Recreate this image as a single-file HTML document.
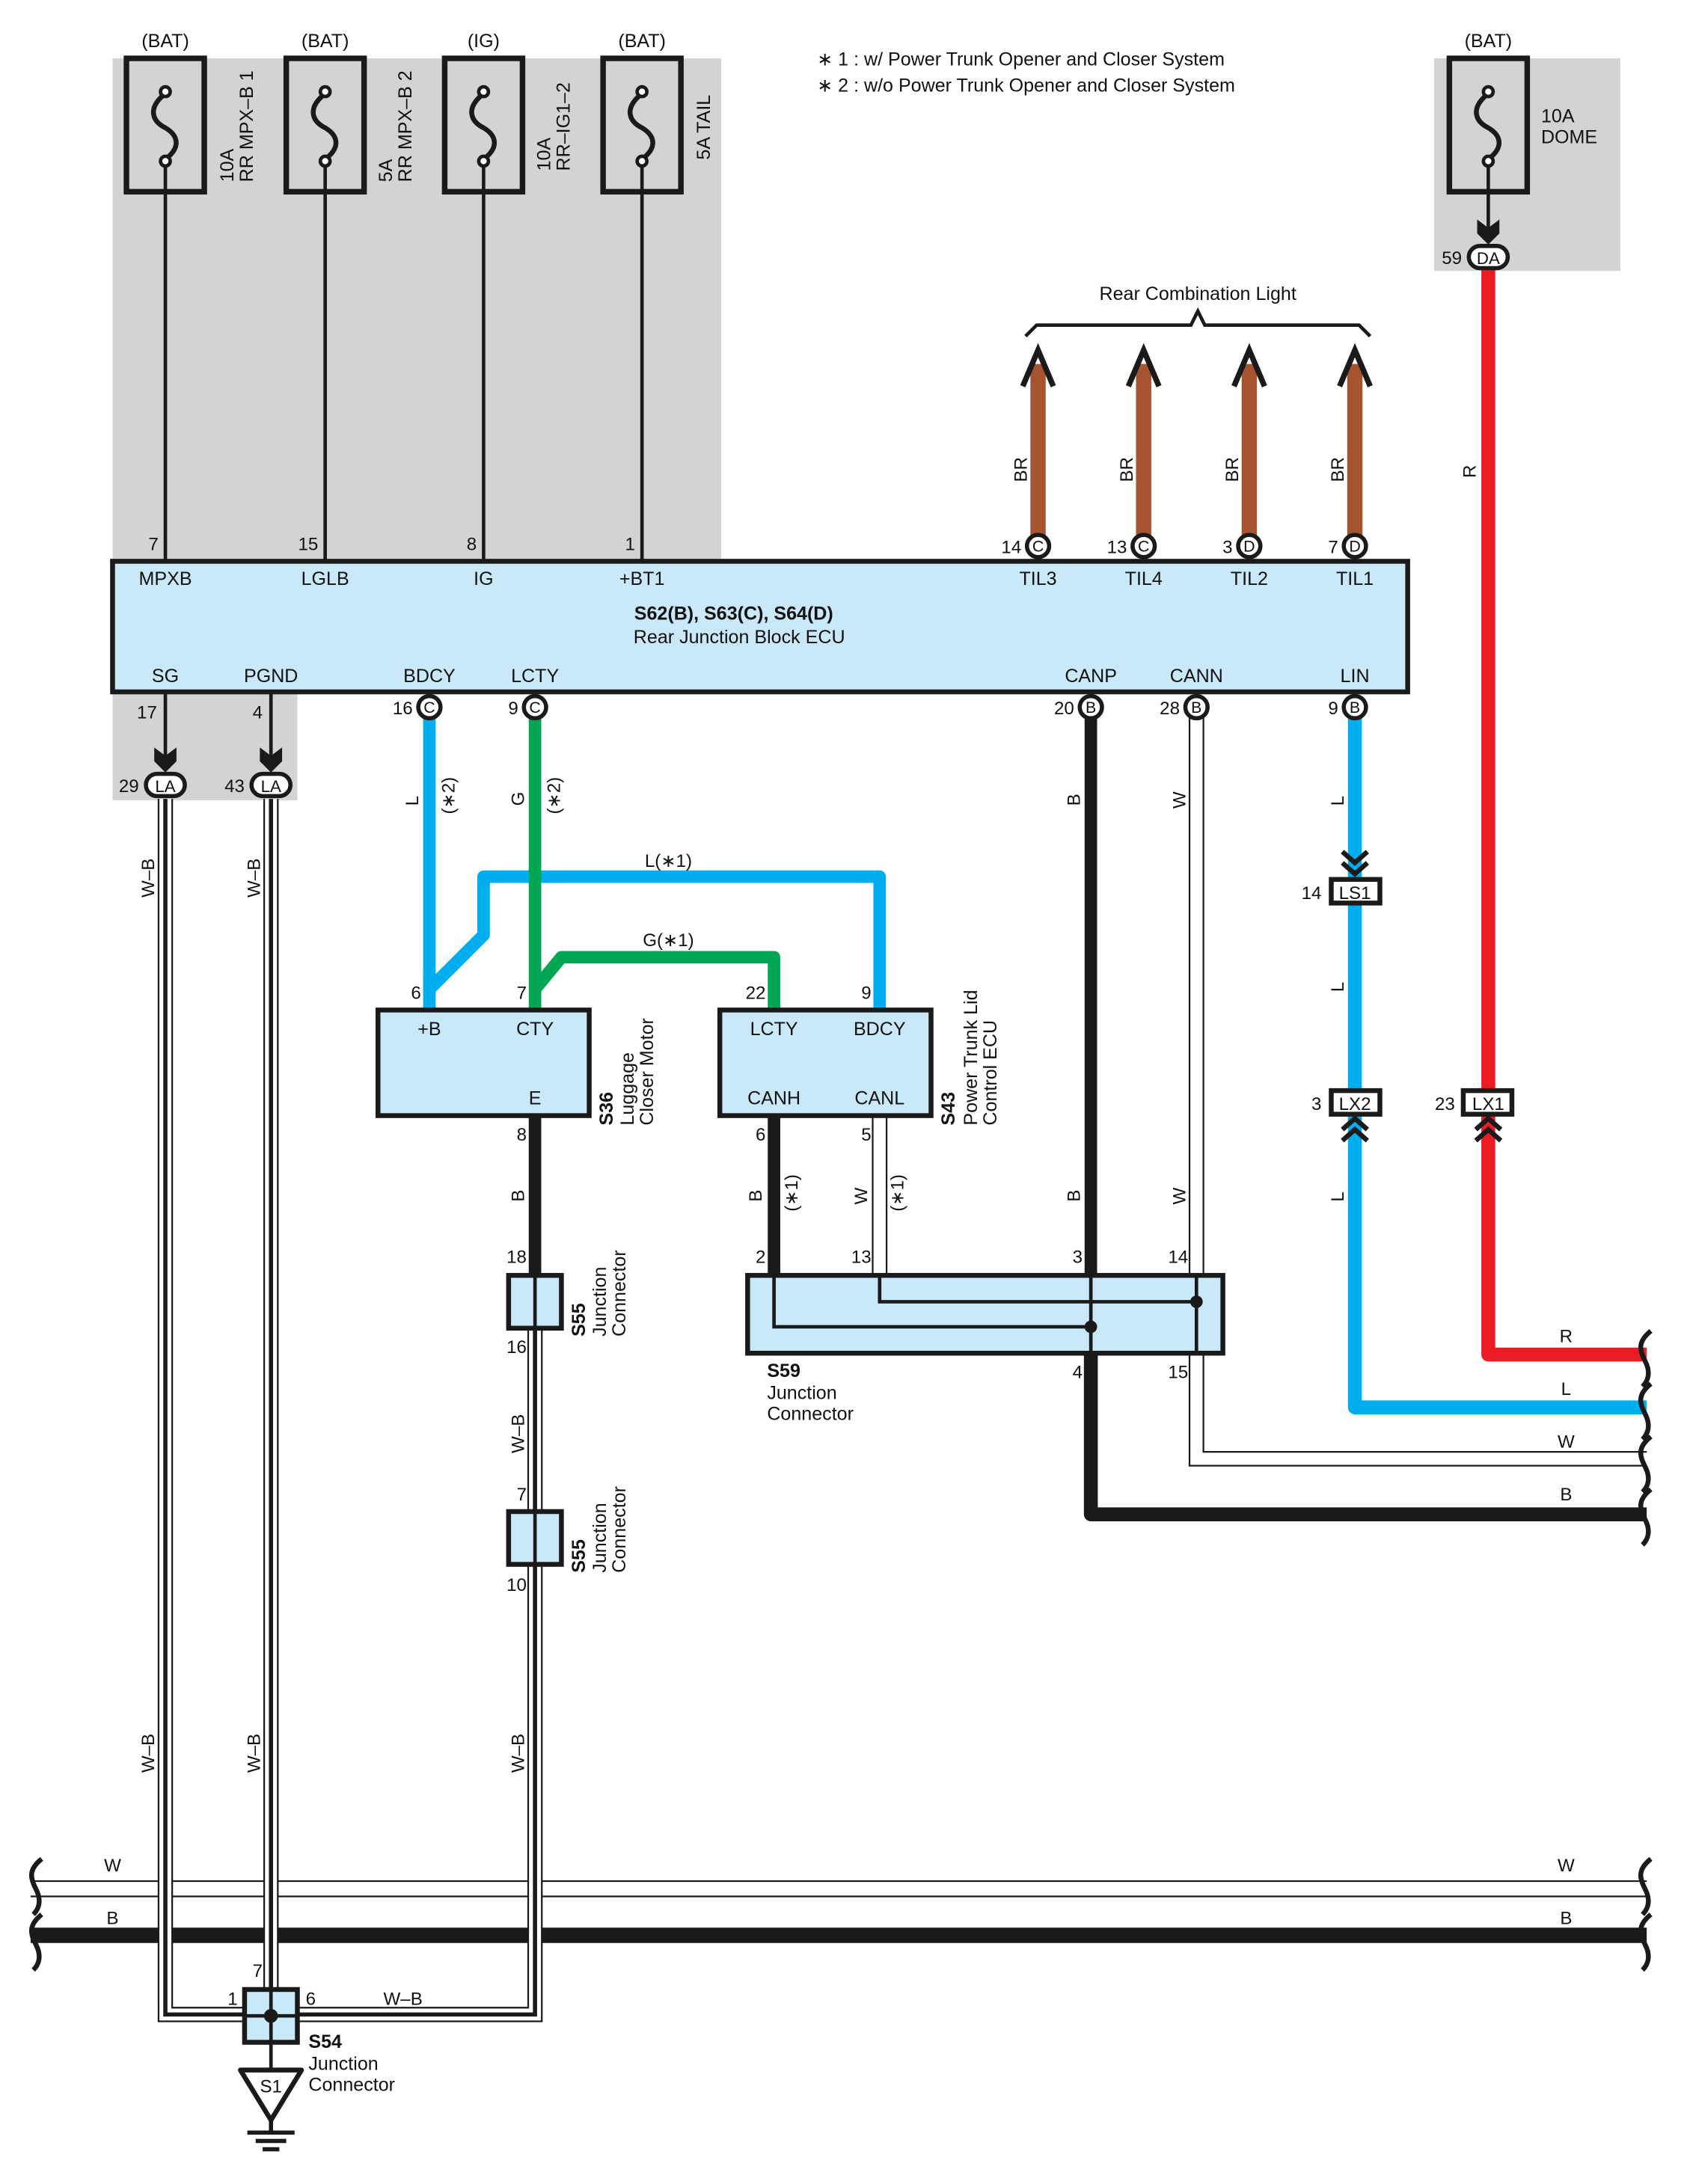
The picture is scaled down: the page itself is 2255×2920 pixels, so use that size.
<!DOCTYPE html>
<html><head><meta charset="utf-8"><style>
html,body{margin:0;padding:0;background:#fff}
svg{display:block}
text{font-family:"Liberation Sans",sans-serif;fill:#111}
</style></head><body>
<svg width="2255" height="2920" viewBox="0 0 1214 1572" xmlns="http://www.w3.org/2000/svg">
<defs>
<g id="fuse">
<rect x="-28" y="0" width="56" height="96" fill="none" stroke="#1a1a1a" stroke-width="4"/>
<circle cx="0" cy="24" r="3.5" fill="#fff" stroke="#1a1a1a" stroke-width="2.5"/>
<circle cx="0" cy="74" r="3.5" fill="#fff" stroke="#1a1a1a" stroke-width="2.5"/>
<path d="M-2 27 C-12 36,-10 45,0 50 C10 56,10 64,2 71" fill="none" stroke="#1a1a1a" stroke-width="3.5"/>
</g>
<g id="darr"><path d="M-8 -12 L0 -6 L8 -12 L8 -2 L0 6 L-8 -2 Z" fill="#1a1a1a"/></g>
</defs>
<!-- gray backgrounds -->
<rect x="81" y="42" width="438" height="362" fill="#d1d3d4"/>
<rect x="81" y="498" width="133" height="78" fill="#d1d3d4"/>
<rect x="1032" y="42" width="134" height="153" fill="#d1d3d4"/>

<!-- notes -->
<text x="588" y="47" font-size="13.5">∗ 1 : w/ Power Trunk Opener and Closer System</text>
<text x="588" y="66" font-size="13.5">∗ 2 : w/o Power Trunk Opener and Closer System</text>

<!-- fuses -->
<g font-size="13.5" text-anchor="middle">
<text x="119" y="34">(BAT)</text><text x="234" y="34">(BAT)</text><text x="348" y="34">(IG)</text><text x="462" y="34">(BAT)</text><text x="1071" y="34">(BAT)</text>
</g>
<use href="#fuse" x="119" y="42"/><use href="#fuse" x="234" y="42"/><use href="#fuse" x="348" y="42"/><use href="#fuse" x="462" y="42"/><use href="#fuse" x="1071" y="42"/>
<g stroke="#1a1a1a" stroke-width="2.5">
<line x1="119" y1="119" x2="119" y2="404"/><line x1="234" y1="119" x2="234" y2="404"/><line x1="348" y1="119" x2="348" y2="404"/><line x1="462" y1="119" x2="462" y2="404"/>
<line x1="1071" y1="119" x2="1071" y2="170"/>
<line x1="119" y1="498" x2="119" y2="550"/><line x1="195" y1="498" x2="195" y2="550"/>
</g>
<g font-size="13.5">
<text transform="translate(168,131) rotate(-90)">10A</text><text transform="translate(182,131) rotate(-90)">RR MPX–B 1</text>
<text transform="translate(282,131) rotate(-90)">5A</text><text transform="translate(296,131) rotate(-90)">RR MPX–B 2</text>
<text transform="translate(396,123) rotate(-90)">10A</text><text transform="translate(410,123) rotate(-90)">RR–IG1–2</text>
<text transform="translate(511,115) rotate(-90)">5A TAIL</text>
<text x="1109" y="88">10A</text><text x="1109" y="103">DOME</text>
</g>
<g font-size="13" text-anchor="end">
<text x="114" y="396">7</text><text x="229" y="396">15</text><text x="343" y="396">8</text><text x="457" y="396">1</text>
</g>

<!-- DA connector + red -->
<use href="#darr" x="1071" y="170"/>
<path d="M1071 192 V975 H1185" fill="none" stroke="#ed1c24" stroke-width="10" stroke-linejoin="round"/>
<rect x="1057" y="177" width="28" height="16" rx="8" fill="#fff" stroke="#1a1a1a" stroke-width="3"/>
<text x="1071" y="190" font-size="12" text-anchor="middle">DA</text>
<text x="1052" y="190" font-size="13" text-anchor="end">59</text>
<text transform="translate(1062,344) rotate(-90)" font-size="13">R</text>

<!-- Rear Combination Light -->
<text x="862" y="216" font-size="13.5" text-anchor="middle">Rear Combination Light</text>
<path d="M738 242 L746 234 H857 L862 224 L867 234 H978 L986 242" fill="none" stroke="#1a1a1a" stroke-width="2.5"/>
<g stroke="#a65430" stroke-width="11">
<line x1="747" y1="262" x2="747" y2="388"/><line x1="823" y1="262" x2="823" y2="388"/><line x1="899" y1="262" x2="899" y2="388"/><line x1="975" y1="262" x2="975" y2="388"/>
</g>
<g fill="none" stroke="#1a1a1a" stroke-width="4">
<path d="M736 278 L747 252 L758 278"/><path d="M812 278 L823 252 L834 278"/><path d="M888 278 L899 252 L910 278"/><path d="M964 278 L975 252 L986 278"/>
</g>
<g font-size="13">
<text transform="translate(739,347) rotate(-90)">BR</text><text transform="translate(815,347) rotate(-90)">BR</text><text transform="translate(891,347) rotate(-90)">BR</text><text transform="translate(967,347) rotate(-90)">BR</text>
</g>

<!-- ECU -->
<rect x="81" y="404" width="932" height="94" fill="#c9e8f8" stroke="#1a1a1a" stroke-width="3.5"/>
<g font-size="13.5" text-anchor="middle">
<text x="119" y="421">MPXB</text><text x="234" y="421">LGLB</text><text x="348" y="421">IG</text><text x="462" y="421">+BT1</text>
<text x="747" y="421">TIL3</text><text x="823" y="421">TIL4</text><text x="899" y="421">TIL2</text><text x="975" y="421">TIL1</text>
<text x="528" y="446" font-weight="bold">S62(B), S63(C), S64(D)</text>
<text x="532" y="463">Rear Junction Block ECU</text>
<text x="119" y="491">SG</text><text x="195" y="491">PGND</text><text x="309" y="491">BDCY</text><text x="385" y="491">LCTY</text>
<text x="785" y="491">CANP</text><text x="861" y="491">CANN</text><text x="975" y="491">LIN</text>
</g>

<!-- Bottom wires from ECU -->
<path d="M309 509 V712 L348 673 V631 H633 V727" fill="none" stroke="#00aeef" stroke-width="9" stroke-linejoin="round"/>
<path d="M309 700 V727" fill="none" stroke="#00aeef" stroke-width="9"/>
<path d="M385 509 V727" fill="none" stroke="#00a651" stroke-width="9"/>
<path d="M385 712 L404 689 H557 V727" fill="none" stroke="#00a651" stroke-width="9" stroke-linejoin="round"/>
<text x="481" y="624" font-size="13" text-anchor="middle">L(∗1)</text>
<text x="481" y="681" font-size="13" text-anchor="middle">G(∗1)</text>
<g font-size="13">
<text transform="translate(301,580) rotate(-90)">L</text><text transform="translate(327,586) rotate(-90)">(∗2)</text>
<text transform="translate(377,580) rotate(-90)">G</text><text transform="translate(403,586) rotate(-90)">(∗2)</text>
<text transform="translate(777,580) rotate(-90)">B</text>
<text transform="translate(853,582) rotate(-90)">W</text>
<text transform="translate(967,580) rotate(-90)">L</text>
<text transform="translate(967,714) rotate(-90)">L</text>
<text transform="translate(967,865) rotate(-90)">L</text>
<text transform="translate(377,865) rotate(-90)">B</text>
<text transform="translate(548,865) rotate(-90)">B</text><text transform="translate(574,872) rotate(-90)">(∗1)</text>
<text transform="translate(624,867) rotate(-90)">W</text><text transform="translate(650,872) rotate(-90)">(∗1)</text>
<text transform="translate(777,865) rotate(-90)">B</text>
<text transform="translate(853,867) rotate(-90)">W</text>
<text transform="translate(111,646) rotate(-90)">W–B</text>
<text transform="translate(187,646) rotate(-90)">W–B</text>
<text transform="translate(111,1276) rotate(-90)">W–B</text>
<text transform="translate(187,1276) rotate(-90)">W–B</text>
<text transform="translate(377,1046) rotate(-90)">W–B</text>
<text transform="translate(377,1276) rotate(-90)">W–B</text>
</g>

<!-- LIN blue -->
<path d="M975 509 V1013 H1185" fill="none" stroke="#00aeef" stroke-width="10" stroke-linejoin="round"/>
<g fill="none" stroke="#1a1a1a" stroke-width="3.5">
<path d="M966 613 L975 621 L984 613"/><path d="M966 621 L975 629 L984 621"/>
<path d="M966 813 L975 805 L984 813"/><path d="M966 821 L975 813 L984 821"/>
<path d="M1062 813 L1071 805 L1080 813"/><path d="M1062 821 L1071 813 L1080 821"/>
</g>
<g stroke="#1a1a1a" stroke-width="3.5" fill="#fff">
<rect x="958" y="633" width="35" height="17"/><rect x="958" y="785" width="35" height="17"/><rect x="1053" y="785" width="35" height="17"/>
</g>
<g font-size="13" text-anchor="middle"><text x="975" y="647">LS1</text><text x="975" y="799">LX2</text><text x="1071" y="799">LX1</text></g>
<g font-size="13" text-anchor="end"><text x="951" y="647">14</text><text x="951" y="799">3</text><text x="1047" y="799">23</text></g>

<!-- CANP / CANN -->
<path d="M785 509 V918" stroke="#1a1a1a" stroke-width="9" fill="none"/>
<path d="M785 974 V1090 H1185" stroke="#1a1a1a" stroke-width="10" fill="none" stroke-linejoin="round"/>
<g fill="none" stroke="#1a1a1a" stroke-width="1.2">
<line x1="856" y1="509" x2="856" y2="918"/><line x1="866" y1="509" x2="866" y2="918"/>
<path d="M856 974 V1055 H1185"/><path d="M866 974 V1045 H1185"/>
<line x1="628" y1="803" x2="628" y2="918"/><line x1="638" y1="803" x2="638" y2="918"/>
</g>
<g font-size="13" text-anchor="middle"><text x="1127" y="966">R</text><text x="1127" y="1004">L</text><text x="1127" y="1042">W</text><text x="1127" y="1080">B</text></g>

<!-- ECU bottom connectors -->
<g fill="#fff" stroke="#1a1a1a" stroke-width="3">
<circle cx="309" cy="509" r="8"/><circle cx="385" cy="509" r="8"/><circle cx="785" cy="509" r="8"/><circle cx="861" cy="509" r="8"/><circle cx="975" cy="509" r="8"/>
<circle cx="747" cy="393" r="8"/><circle cx="823" cy="393" r="8"/><circle cx="899" cy="393" r="8"/><circle cx="975" cy="393" r="8"/>
</g>
<g font-size="11.5" text-anchor="middle">
<text x="309" y="513">C</text><text x="385" y="513">C</text><text x="785" y="513">B</text><text x="861" y="513">B</text><text x="975" y="513">B</text>
<text x="747" y="397">C</text><text x="823" y="397">C</text><text x="899" y="397">D</text><text x="975" y="397">D</text>
</g>
<g font-size="13" text-anchor="end">
<text x="297" y="514">16</text><text x="373" y="514">9</text><text x="773" y="514">20</text><text x="849" y="514">28</text><text x="963" y="514">9</text>
<text x="735" y="398">14</text><text x="811" y="398">13</text><text x="887" y="398">3</text><text x="963" y="398">7</text>
<text x="113" y="517">17</text><text x="189" y="517">4</text>
</g>

<!-- bottom bus lines -->
<g fill="none" stroke="#1a1a1a">
<line x1="22" y1="1354" x2="1185" y2="1354" stroke-width="1.2"/>
<line x1="22" y1="1365" x2="1185" y2="1365" stroke-width="1.2"/>
<line x1="22" y1="1393" x2="1185" y2="1393" stroke-width="11"/>
</g>
<g fill="none" stroke="#1a1a1a" stroke-width="3.5">
<path d="M30 1338 C20 1346,22 1352,26 1360 C30 1368,28 1374,24 1378"/>
<path d="M30 1378 C20 1386,22 1392,26 1400 C30 1408,28 1414,24 1418"/>
<path d="M1188 1338 C1178 1346,1180 1352,1184 1360 C1188 1368,1186 1374,1182 1378"/>
<path d="M1188 1378 C1178 1386,1180 1392,1184 1400 C1188 1408,1186 1414,1182 1418"/>
<path d="M1188 958 C1178 966,1180 972,1184 980 C1188 988,1186 994,1182 998"/>
<path d="M1188 996 C1178 1004,1180 1010,1184 1018 C1188 1026,1186 1032,1182 1036"/>
<path d="M1188 1034 C1178 1042,1180 1048,1184 1056 C1188 1064,1186 1070,1182 1074"/>
<path d="M1188 1072 C1178 1080,1180 1086,1184 1094 C1188 1102,1186 1108,1182 1112"/>
</g>
<g font-size="13" text-anchor="middle"><text x="81" y="1347">W</text><text x="81" y="1385">B</text><text x="1127" y="1347">W</text><text x="1127" y="1385">B</text></g>

<!-- W-B wires (white with black stripe) -->
<g fill="none" stroke-linejoin="miter">
<path d="M119 575 V1450 H176 M195 575 V1432 M214 1450 H385 V1126 M385 1088 V956" stroke="#1a1a1a" stroke-width="11"/>
<path d="M119 575 V1450 H176 M195 575 V1432 M214 1450 H385 V1126 M385 1088 V956" stroke="#fff" stroke-width="8.6"/>
<path d="M119 575 V1450 H176 M195 575 V1432 M214 1450 H385 V1126 M385 1088 V956" stroke="#1a1a1a" stroke-width="3"/>
</g>
<!-- LA connectors -->
<use href="#darr" x="119" y="550"/><use href="#darr" x="195" y="550"/>
<rect x="105" y="557" width="28" height="16" rx="8" fill="#fff" stroke="#1a1a1a" stroke-width="3"/>
<rect x="181" y="557" width="28" height="16" rx="8" fill="#fff" stroke="#1a1a1a" stroke-width="3"/>
<g font-size="12" text-anchor="middle"><text x="119" y="570">LA</text><text x="195" y="570">LA</text></g>
<g font-size="13" text-anchor="end"><text x="100" y="570">29</text><text x="176" y="570">43</text></g>

<!-- S36 -->
<path d="M385 803 V918" stroke="#1a1a1a" stroke-width="9"/>
<rect x="272" y="727" width="152" height="76" fill="#c9e8f8" stroke="#1a1a1a" stroke-width="3.5"/>
<g font-size="13.5" text-anchor="middle"><text x="309" y="745">+B</text><text x="385" y="745">CTY</text><text x="385" y="795">E</text></g>
<g font-size="13" text-anchor="end"><text x="303" y="719">6</text><text x="379" y="719">7</text><text x="379" y="821">8</text>
<text x="379" y="909">18</text><text x="379" y="974">16</text><text x="379" y="1080">7</text><text x="379" y="1145">10</text></g>
<text transform="translate(441,810) rotate(-90)" font-size="13.5" font-weight="bold">S36</text>
<text transform="translate(456,810) rotate(-90)" font-size="13.5">Luggage</text>
<text transform="translate(470,810) rotate(-90)" font-size="13.5">Closer Motor</text>

<!-- S55 boxes -->
<rect x="366" y="918" width="38" height="38" fill="#c9e8f8" stroke="#1a1a1a" stroke-width="3.5"/>
<line x1="385" y1="918" x2="385" y2="956" stroke="#1a1a1a" stroke-width="2.5"/>
<rect x="366" y="1088" width="38" height="38" fill="#c9e8f8" stroke="#1a1a1a" stroke-width="3.5"/>
<line x1="385" y1="1088" x2="385" y2="1126" stroke="#1a1a1a" stroke-width="2.5"/>
<text transform="translate(421,962) rotate(-90)" font-size="13.5" font-weight="bold">S55</text>
<text transform="translate(436,962) rotate(-90)" font-size="13.5">Junction</text>
<text transform="translate(450,962) rotate(-90)" font-size="13.5">Connector</text>
<text transform="translate(421,1132) rotate(-90)" font-size="13.5" font-weight="bold">S55</text>
<text transform="translate(436,1132) rotate(-90)" font-size="13.5">Junction</text>
<text transform="translate(450,1132) rotate(-90)" font-size="13.5">Connector</text>

<!-- S43 -->
<path d="M557 803 V918" stroke="#1a1a1a" stroke-width="9"/>
<rect x="518" y="727" width="152" height="76" fill="#c9e8f8" stroke="#1a1a1a" stroke-width="3.5"/>
<g font-size="13.5" text-anchor="middle"><text x="557" y="745">LCTY</text><text x="633" y="745">BDCY</text><text x="557" y="795">CANH</text><text x="633" y="795">CANL</text></g>
<g font-size="13" text-anchor="end"><text x="551" y="719">22</text><text x="627" y="719">9</text><text x="551" y="821">6</text><text x="627" y="821">5</text>
<text x="551" y="909">2</text><text x="627" y="909">13</text><text x="779" y="909">3</text><text x="855" y="909">14</text><text x="779" y="992">4</text><text x="855" y="992">15</text></g>
<text transform="translate(687,810) rotate(-90)" font-size="13.5" font-weight="bold">S43</text>
<text transform="translate(703,810) rotate(-90)" font-size="13.5">Power Trunk Lid</text>
<text transform="translate(717,810) rotate(-90)" font-size="13.5">Control ECU</text>

<!-- S59 -->
<rect x="538" y="918" width="342" height="56" fill="#c9e8f8" stroke="#1a1a1a" stroke-width="3.5"/>
<g fill="none" stroke="#1a1a1a" stroke-width="2.5">
<path d="M557 918 V955 H785"/><path d="M633 918 V937 H861"/>
<line x1="785" y1="918" x2="785" y2="974"/><line x1="861" y1="918" x2="861" y2="974"/>
</g>
<circle cx="785" cy="955" r="4.5" fill="#1a1a1a"/><circle cx="861" cy="937" r="4.5" fill="#1a1a1a"/>
<text x="552" y="991" font-size="13.5" font-weight="bold">S59</text>
<text x="552" y="1007" font-size="13.5">Junction</text>
<text x="552" y="1022" font-size="13.5">Connector</text>

<!-- S54 -->
<rect x="176" y="1432" width="38" height="38" fill="#c9e8f8" stroke="#1a1a1a" stroke-width="3.5"/>
<g stroke="#1a1a1a" stroke-width="2.5"><line x1="195" y1="1432" x2="195" y2="1490"/><line x1="176" y1="1451" x2="214" y2="1451"/></g>
<circle cx="195" cy="1451" r="5" fill="#1a1a1a"/>
<g font-size="13" text-anchor="end"><text x="189" y="1423">7</text><text x="171" y="1443">1</text></g>
<text x="220" y="1443" font-size="13">6</text>
<text x="290" y="1443" font-size="13" text-anchor="middle">W–B</text>
<text x="222" y="1474" font-size="13.5" font-weight="bold">S54</text>
<text x="222" y="1490" font-size="13.5">Junction</text>
<text x="222" y="1505" font-size="13.5">Connector</text>
<path d="M173 1490 H217 L195 1526 Z" fill="#fff" stroke="#1a1a1a" stroke-width="3.5" stroke-linejoin="round"/>
<text x="195" y="1506" font-size="13" text-anchor="middle">S1</text>
<g stroke="#1a1a1a" stroke-width="3"><line x1="195" y1="1526" x2="195" y2="1535"/><line x1="178" y1="1535" x2="212" y2="1535"/><line x1="184" y1="1541" x2="206" y2="1541"/><line x1="189" y1="1547" x2="201" y2="1547"/></g>
</svg>
</body></html>
